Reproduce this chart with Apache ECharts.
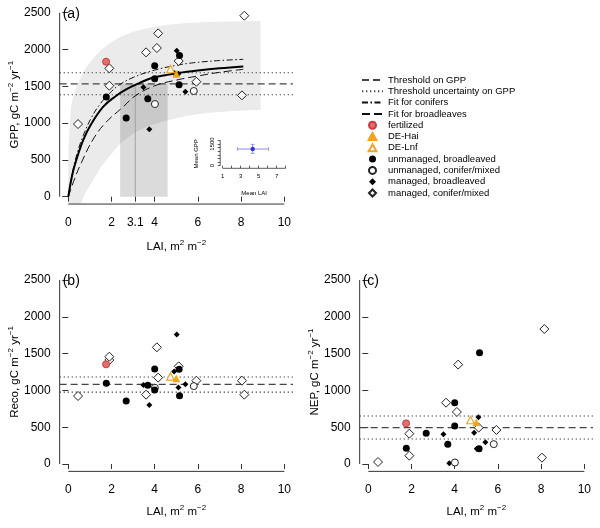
<!DOCTYPE html>
<html><head><meta charset="utf-8">
<script src="https://cdn.jsdelivr.net/npm/echarts@6/dist/echarts.min.js"></script>
<style>html,body{margin:0;padding:0;background:#fff}#c{width:600px;height:528px}</style>
</head><body><div id="c"></div>
<script>
// ---------- tick labels ----------
const xTicksA = [0, 2, 3.1, 4, 6, 8, 10];
const xTicksBC = [0, 2, 4, 6, 8, 10];
const yTicks = [0, 500, 1000, 1500, 2000, 2500];
const insetXTicks = [1, 2, 3, 4, 5, 6, 7, 8];
const insetXLabels = [1, 3, 5, 7];
const insetYTicks = [0, 250, 500, 750, 1000, 1250, 1500, 1750];
const insetYLabels = [0, 1500];

// ---------- site groups: LAI and GPP / Reco / NEP ----------
const fertLAI = [1.75];
const fertGPP = [1834];
const fertReco = [1354];
const fertNEP = [552];

const haiLAI = [5.0];
const haiGPP = [1667];
const haiReco = [1162];
const haiNEP = [565];

const lnfLAI = [4.73];
const lnfGPP = [1735];
const lnfReco = [1190];
const lnfNEP = [598];

const unmBroadLAI = [1.76, 2.68, 4.0, 4.0, 3.68, 5.15, 5.13];
const unmBroadGPP = [1354, 1069, 1780, 1603, 1331, 1920, 1522];
const unmBroadReco = [1096, 856, 1005, 1291, 1069, 928, 1287];
const unmBroadNEP = [213, 417, 833, 516, 267, 1513, 208];

const unmConLAI = [4.01, 5.81];
const unmConGPP = [1259, 1436];
const unmConReco = [1035, 1058];
const unmConNEP = [20, 270];

const manBroadLAI = [3.48, 3.75, 5.02, 5.42, 4.9, 5.1];
const manBroadGPP = [1486, 915, 1984, 1427, 1680, 1670];
const manBroadReco = [1073, 803, 1760, 1085, 1258, 1039];
const manBroadNEP = [403, 9, 208, 295, 423, 634];

const manConLAI = [0.45, 1.9, 1.9, 3.6, 4.1, 4.16, 5.11, 5.93, 8.04, 8.15];
const manConGPP = [987, 1744, 1508, 1961, 2020, 2219, 1843, 1562, 1377, 2459];
const manConReco = [924, 1413, 1458, 942, 1585, 1173, 1327, 1132, 1132, 942];
const manConNEP = [27, 412, 113, 833, 707, 1350, 494, 462, 86, 1834];

// ---------- thresholds [lower, threshold, upper] ----------
const gppThr = [1386, 1533, 1685];
const recoThr = [977, 1082, 1183];
const nepThr = [340, 494, 652];
const laiThr = 3.1;
const laiThrRange = [2.4, 4.6];

// ---------- fitted curves ----------
const fitAllLAI = [0, 0.2, 0.42, 0.69, 1.08, 1.62, 2.16, 2.7, 3.3, 3.86, 4.5, 5.09, 6, 7, 8.1];
const fitAllGPP = [0, 318, 543, 770, 997, 1223, 1359, 1460, 1545, 1613, 1650, 1681, 1715, 1745, 1770];
const fitConLAI = [0, 0.2, 0.42, 0.69, 1.08, 1.5, 1.85, 2.31, 3, 4, 5, 5.8, 7, 8.1];
const fitConGPP = [0, 340, 600, 830, 1080, 1270, 1386, 1508, 1620, 1720, 1785, 1820, 1850, 1866];
const fitBroadLAI = [0, 0.3, 0.6, 1.13, 1.7, 2.55, 3.1, 4.01, 5.09, 6, 7, 8.1];
const fitBroadGPP = [0, 250, 460, 770, 997, 1223, 1370, 1508, 1590, 1640, 1690, 1730];

// ---------- uncertainty band ----------
const bandLAI = [0, 0.06, 0.12, 0.2, 0.31, 0.45, 0.6, 0.8, 1.0, 1.16, 1.5, 1.93, 2.4, 3, 3.7, 4.6, 5.5, 6.5, 7.5, 8.9];
const bandUpper = [610, 950, 1200, 1330, 1432, 1540, 1640, 1750, 1820, 1880, 1990, 2090, 2170, 2240, 2292, 2335, 2360, 2374, 2382, 2388];
const bandLower = [-300, -260, -230, -200, -160, -120, -80, 60, 150, 227, 400, 560, 720, 860, 960, 1040, 1100, 1140, 1162, 1180];

// ---------- inset: mean LAI / mean GPP [low, mean, high] ----------
const insetLAI = [2.62, 4.33, 6.07];
const insetGPP = [857, 1154, 1480];

// =====================================================
const F = 'Liberation Sans, Arial, Helvetica, sans-serif';
const AX = '#333';
const zip = (xs, ys) => xs.map((x, i) => [x, ys[i]]);
const padR = (lo, hi, f) => [lo - f * (hi - lo), hi + f * (hi - lo)];

// plot boxes (pixel extents of data ranges 0..10 / 0..2500)
const panels = [
  { box: [68.3, 12.7], thr: gppThr, yName: 'GPP, gC m{s|−2} yr{s|−1}', xTicks: xTicksA, label: '(a)', xNameGap: 35 },
  { box: [68.3, 280], thr: recoThr, yName: 'Reco, gC m{s|−2} yr{s|−1}', xTicks: xTicksBC, label: '(b)', xNameGap: 32.5 },
  { box: [368.3, 280], thr: nepThr, yName: 'NEP, gC m{s|−2} yr{s|−1}', xTicks: xTicksBC, label: '(c)', xNameGap: 32.5 }
];
const PW = 216, PH = 184;
const xR = padR(0, 10, 0.04), yR = padR(0, 2500, 0.04);

const grid = panels.map(p => ({
  left: p.box[0] - 0.04 * PW, top: p.box[1] - 0.04 * PH, width: PW * 1.08, height: PH * 1.08
}));
// inset box: x 1..8 -> 222.7..285.7 ; y 0..1750 -> 165.7..140.4
const insetXR = padR(1, 8, 0.04);
const insetYR = [-180, 1820];
const ixs = 63 / 7, iys = 25.3 / 1750;
grid.push({ left: 222.7 - (1 - insetXR[0]) * ixs, top: 165.7 - insetYR[1] * iys,
  width: (insetXR[1] - insetXR[0]) * ixs, height: (insetYR[1] - insetYR[0]) * iys });

const groups = [
  { name: 'fertilized', lai: fertLAI, vals: [fertGPP, fertReco, fertNEP], symbol: 'circle', size: 7, style: { color: '#e07070', borderColor: '#c83c3c', borderWidth: 1 } },
  { name: 'DE-Hai', lai: haiLAI, vals: [haiGPP, haiReco, haiNEP], symbol: 'triangle', size: 7, style: { color: '#f5a31a', borderColor: '#f5a31a', borderWidth: 0.5 } },
  { name: 'DE-Lnf', lai: lnfLAI, vals: [lnfGPP, lnfReco, lnfNEP], symbol: 'triangle', size: 7.5, style: { color: '#ffffff', borderColor: '#f0a52a', borderWidth: 1.2 } },
  { name: 'unmanaged, broadleaved', lai: unmBroadLAI, vals: [unmBroadGPP, unmBroadReco, unmBroadNEP], symbol: 'circle', size: 7, style: { color: '#000000' } },
  { name: 'unmanaged, conifer/mixed', lai: unmConLAI, vals: [unmConGPP, unmConReco, unmConNEP], symbol: 'circle', size: 7, style: { color: '#ffffff', borderColor: '#222', borderWidth: 1 } },
  { name: 'managed, broadleaved', lai: manBroadLAI, vals: [manBroadGPP, manBroadReco, manBroadNEP], symbol: 'diamond', size: 6, style: { color: '#000000' } },
  { name: 'managed, conifer/mixed', lai: manConLAI, vals: [manConGPP, manConReco, manConNEP], symbol: 'diamond', size: 9, style: { color: '#ffffff', borderColor: '#222', borderWidth: 1 } }
];

const nameStyle = { fontSize: 11.5, fontFamily: F, color: '#000', lineHeight: 16,
  rich: { s: { fontSize: 8, fontFamily: F, color: '#000', verticalAlign: 'top', lineHeight: 9 } } };

const xAxis = panels.map((p, i) => ({
  type: 'value', gridIndex: i, min: xR[0], max: xR[1],
  axisLine: { show: false },
  axisTick: { show: true, length: 5, lineStyle: { color: AX }, customValues: p.xTicks },
  axisLabel: { fontSize: 12, fontFamily: F, color: '#000', margin: 12.5, customValues: p.xTicks, formatter: v => String(v) },
  splitLine: { show: false },
  name: 'LAI, m{s|2} m{s|−2}', nameLocation: 'middle', nameGap: p.xNameGap, nameMoveOverlap: false, nameTextStyle: nameStyle
}));
xAxis.push({
  type: 'value', gridIndex: 3, min: insetXR[0], max: insetXR[1],
  axisLine: { show: false },
  axisTick: { length: 2.5, lineStyle: { color: AX, width: 0.8 }, customValues: insetXTicks },
  axisLabel: { fontSize: 6, fontFamily: F, color: '#000', margin: 5, customValues: insetXLabels, formatter: v => String(v) },
  splitLine: { show: false },
  name: 'Mean LAI', nameLocation: 'middle', nameGap: 22, nameMoveOverlap: false, nameTextStyle: { fontSize: 6, fontFamily: F, color: '#000' }
});

const yAxis = panels.map((p, i) => ({
  type: 'value', gridIndex: i, min: yR[0], max: yR[1],
  axisLine: { show: false },
  axisTick: { show: true, length: 6, lineStyle: { color: AX }, customValues: yTicks },
  axisLabel: { fontSize: 12, fontFamily: F, color: '#000', margin: 9, customValues: yTicks, formatter: v => String(v) },
  splitLine: { show: false },
  name: p.yName, nameLocation: 'middle', nameRotate: 90, nameGap: 36.5, nameMoveOverlap: false, nameTextStyle: nameStyle
}));
yAxis.push({
  type: 'value', gridIndex: 3, min: insetYR[0], max: insetYR[1],
  axisLine: { show: false },
  axisTick: { length: 2.5, lineStyle: { color: AX, width: 0.8 }, customValues: insetYTicks },
  axisLabel: { fontSize: 6, fontFamily: F, color: '#000', margin: 5, rotate: 90, customValues: insetYLabels, formatter: v => String(v) },
  splitLine: { show: false },
  name: 'Mean GPP', nameLocation: 'middle', nameRotate: 90, nameGap: 21, nameMoveOverlap: false, nameTextStyle: { fontSize: 6, fontFamily: F, color: '#000' }
});

const series = [];

// band (panel a) as a polygon through the axis scales
series.push({
  type: 'custom', name: 'band', xAxisIndex: 0, yAxisIndex: 0, data: [0], clip: true, silent: true, z: 0,
  renderItem: (params, api) => {
    const up = bandLAI.map((x, i) => api.coord([x, bandUpper[i]]));
    const lo = bandLAI.map((x, i) => api.coord([x, bandLower[i]])).reverse();
    return { type: 'polygon', shape: { points: up.concat(lo) }, style: { fill: '#ebebeb', stroke: null } };
  }
});
// LAI threshold line + range
series.push({
  type: 'line', name: 'lai-thr', xAxisIndex: 0, yAxisIndex: 0,
  data: [[laiThr, 0], [laiThr, gppThr[1]]], symbol: 'none',
  lineStyle: { color: '#a0a0a0', width: 1 }, silent: true, z: 3,
  markArea: { silent: true, z: 2, itemStyle: { color: 'rgba(0,0,0,0.14)' },
    data: [[{ coord: [laiThrRange[0], 0] }, { coord: [laiThrRange[1], gppThr[1]] }]] }
});

const hideSym = { opacity: 0, color: '#444' };
// threshold lines for each panel
panels.forEach((p, i) => {
  [0, 2].forEach(k => series.push({
    type: 'line', name: 'Threshold uncertainty on GPP', xAxisIndex: i, yAxisIndex: i,
    data: xR.map(x => [x, p.thr[k]]), symbol: 'none', silent: true, z: 3, itemStyle: hideSym,
    lineStyle: { color: '#444', width: 1.1, type: [1.3, 2.7] }
  }));
  series.push({
    type: 'line', name: 'Threshold on GPP', xAxisIndex: i, yAxisIndex: i,
    data: xR.map(x => [x, p.thr[1]]), symbol: 'none', silent: true, z: 3, itemStyle: hideSym,
    lineStyle: { color: '#444', width: 1.1, type: [7, 4] }
  });
});

// fits (panel a)
series.push({ type: 'line', name: 'Fit for conifers', xAxisIndex: 0, yAxisIndex: 0, data: zip(fitConLAI, fitConGPP), itemStyle: hideSym,
  symbol: 'none', smooth: 0.4, lineStyle: { color: '#111', width: 1, type: [6, 2.5, 1.5, 2.5] }, silent: true, z: 4 });
series.push({ type: 'line', name: 'Fit for broadleaves', xAxisIndex: 0, yAxisIndex: 0, data: zip(fitBroadLAI, fitBroadGPP), itemStyle: hideSym,
  symbol: 'none', smooth: 0.4, lineStyle: { color: '#111', width: 1, type: [8, 4] }, silent: true, z: 4 });
series.push({ type: 'line', name: 'Fit, all sites', xAxisIndex: 0, yAxisIndex: 0, data: zip(fitAllLAI, fitAllGPP), itemStyle: hideSym,
  symbol: 'none', smooth: 0.4, lineStyle: { color: '#000', width: 2 }, silent: true, z: 4 });

// scatter groups
groups.slice().reverse().forEach(g => {
  panels.forEach((p, i) => series.push({
    type: 'scatter', name: g.name, xAxisIndex: i, yAxisIndex: i,
    data: zip(g.lai, g.vals[i]), symbol: g.symbol, symbolSize: g.size,
    itemStyle: Object.assign({ opacity: 1 }, g.style), silent: true, z: 5
  }));
});

// inset
series.push({ type: 'line', name: 'inset-x', xAxisIndex: 3, yAxisIndex: 3,
  data: [[insetLAI[0], insetGPP[1]], [insetLAI[2], insetGPP[1]]], symbol: 'rect', symbolSize: [0.8, 4],
  itemStyle: { color: '#8c8ce0' }, lineStyle: { color: '#8c8ce0', width: 1 }, silent: true, z: 5 });
series.push({ type: 'line', name: 'inset-y', xAxisIndex: 3, yAxisIndex: 3,
  data: [[insetLAI[1], insetGPP[0]], [insetLAI[1], insetGPP[2]]], symbol: 'rect', symbolSize: [4, 0.8],
  itemStyle: { color: '#8c8ce0' }, lineStyle: { color: '#8c8ce0', width: 1 }, silent: true, z: 5 });
series.push({ type: 'scatter', name: 'inset-mean', xAxisIndex: 3, yAxisIndex: 3,
  data: [[insetLAI[1], insetGPP[1]]], symbol: 'circle', symbolSize: 4.5, itemStyle: { color: '#1414c8' }, silent: true, z: 6 });

const diamondIcon = 'path://M5,0L10,5L5,10L0,5Z';
const triIcon = 'path://M5,0L10,9L0,9Z';
const legendData = [
  { name: 'Threshold on GPP' }, { name: 'Threshold uncertainty on GPP' }, { name: 'Fit for conifers' }, { name: 'Fit for broadleaves' },
  { name: 'fertilized' }, { name: 'DE-Hai', icon: triIcon }, { name: 'DE-Lnf', icon: triIcon },
  { name: 'unmanaged, broadleaved' }, { name: 'unmanaged, conifer/mixed' },
  { name: 'managed, broadleaved', icon: diamondIcon }, { name: 'managed, conifer/mixed', icon: diamondIcon }
];

const option = {
  animation: false,
  backgroundColor: '#fff',
  textStyle: { fontFamily: F },
  title: panels.map(p => ({ text: p.label, left: p.box[0] - 5.6, top: p.box[1] - 5.5, padding: 0,
    textStyle: { fontSize: 14, fontWeight: 'normal', fontFamily: F, color: '#000' } })),
  legend: {
    orient: 'vertical', left: 361, top: 74.5, padding: 0, itemWidth: 21, itemHeight: 7, itemGap: 0.3,
    symbolKeepAspect: true, selectedMode: false,
    textStyle: { fontSize: 9.5, fontFamily: F, color: '#000', lineHeight: 11 },
    data: legendData
  },
  grid, xAxis, yAxis, series
};

const chart = echarts.init(document.getElementById('c'));
chart.setOption(option);

// R-style axis lines spanning only the tick range
const axisSpecs = [0, 1, 2].map(i => ({ i, xs: [0, 10], ys: [0, 2500], xAt: xR[0], yAt: yR[0], w: 1 }));
axisSpecs.push({ i: 3, xs: [1, 8], ys: [0, 1750], xAt: insetXR[0], yAt: insetYR[0], w: 0.8 });
const graphic = [];
axisSpecs.forEach(s => {
  const f = { xAxisIndex: s.i, yAxisIndex: s.i };
  const a = chart.convertToPixel(f, [s.xs[0], s.yAt]), b = chart.convertToPixel(f, [s.xs[1], s.yAt]);
  const c = chart.convertToPixel(f, [s.xAt, s.ys[0]]), d = chart.convertToPixel(f, [s.xAt, s.ys[1]]);
  graphic.push({ type: 'line', silent: true, z: 10, shape: { x1: a[0], y1: a[1], x2: b[0], y2: b[1] }, style: { stroke: AX, lineWidth: s.w } });
  graphic.push({ type: 'line', silent: true, z: 10, shape: { x1: c[0], y1: c[1], x2: d[0], y2: d[1] }, style: { stroke: AX, lineWidth: s.w } });
});
chart.setOption({ graphic });
</script></body></html>
